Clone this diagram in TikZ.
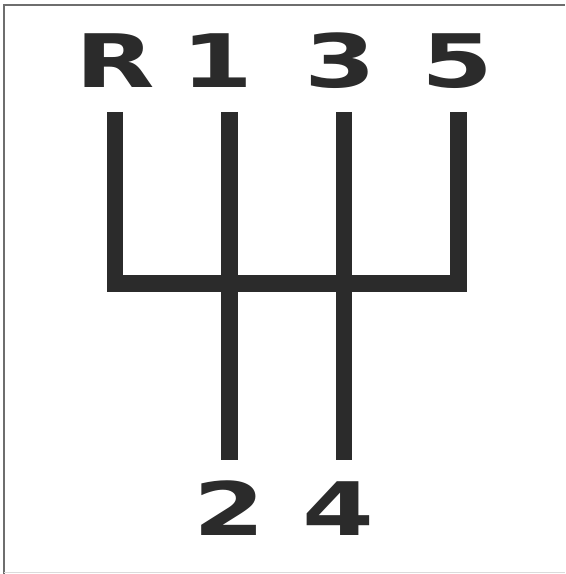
\documentclass[tikz,border=0pt]{standalone}
\usepackage{fontspec}
\usepackage{tikz}
\newfontfamily\gearfont{DejaVu Sans}[FakeStretch=1.4]
\definecolor{gateblack}{HTML}{2B2B2B}
\definecolor{framegray}{HTML}{6E6E6E}

\begin{document}
\begin{tikzpicture}[
  x=0.02cm, y=-0.02cm,
  gate/.style={draw=gateblack, line width=0.33cm, line cap=butt, line join=miter},
  glabel/.style={font=\gearfont\bfseries\fontsize{42}{42}\selectfont, text=gateblack, anchor=base, inner sep=0pt},
  rahmen/.style={draw=framegray, line width=1.2pt}
]
\useasboundingbox (0,0) rectangle (565,574);

% Rahmen
\draw[rahmen] (4,574) -- (4,5) -- (565,5);
\draw[framegray!25, line width=1pt] (4,572.5) -- (565,572.5);

% Schaltkulisse
\coordinate (tR) at (115,112);
\coordinate (t1) at (229.5,112);
\coordinate (t3) at (344,112);
\coordinate (t5) at (458.5,112);
\coordinate (gR) at (115,283.5);
\coordinate (g5) at (458.5,283.5);
\coordinate (b2) at (229.5,460);
\coordinate (b4) at (344,460);

\draw[gate] (tR) -- (gR) -- (g5) -- (t5);
\draw[gate] (t1) -- (b2);
\draw[gate] (t3) -- (b4);

% Gaenge
\node[glabel] (R)    at (115,88)   {R};
\node[glabel] (one)  at (217,88)   {1};
\node[glabel] (three) at (340,88)  {3};
\node[glabel] (five) at (457,88)   {5};
\node[glabel] (two)  at (229,535)  {2};
\node[glabel] (four) at (338,535)  {4};

\end{tikzpicture}
\end{document}
